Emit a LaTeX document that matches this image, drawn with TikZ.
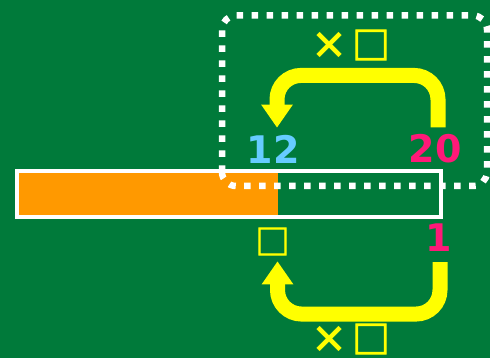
\documentclass[tikz,border=0pt]{standalone}
\usepackage{fontspec}
\usepackage{tikz}
\usetikzlibrary{arrows.meta,positioning}
\newfontfamily\numfont{DejaVu Sans}
\newfontfamily\jpfont{Noto Sans CJK JP}
\newfontfamily\sqfont{Noto Sans CJK JP}[FakeBold=2.5]
\definecolor{board}{RGB}{0,122,58}
\definecolor{barfill}{RGB}{255,153,0}
\definecolor{chalkyellow}{RGB}{255,255,0}
\definecolor{chalkblue}{RGB}{102,204,255}
\definecolor{chalkpink}{RGB}{255,25,120}
\begin{document}
\begin{tikzpicture}[
  x=1pt, y=1pt,
  every node/.style={inner sep=0pt, align=center},
  num/.style={font=\numfont\bfseries\fontsize{38}{40}\selectfont},
  sym/.style={font=\jpfont\bfseries\fontsize{38}{40}\selectfont, text=chalkyellow},
  turn/.style={draw=chalkyellow, line width=15pt, rounded corners=24pt, -{Triangle[width=30pt, length=23pt]}},
  dotframe/.style={draw=white, line width=6.5pt, dash pattern=on 6.5pt off 8.5pt, rounded corners=14pt}
]
  \fill[board] (0,0) rectangle (490,358);
  \useasboundingbox (0,0) rectangle (490,358);

  % Bar
  \fill[barfill] (19,143) rectangle (278,185);
  \node[draw=white, line width=4pt, minimum width=424pt, minimum height=45.5pt] (bar) at (229,163.8) {};

  % Upper loop
  \node[num, text=chalkblue] (twelve) at (273,209) {12};
  \node[num, text=chalkpink] (twenty) at (435,209) {20};
  \node[sym] (upmul) at (350,313) {×\hspace{4pt}{\sqfont □}};
  \draw[turn] ([xshift=3pt, yshift=7pt]twenty.north) -- ++(0,52) -| ([xshift=4pt, yshift=7pt]twelve.north);

  % Lower loop
  \node[num, text=chalkpink] (one) at (439,120) {1};
  \node[sym, font=\sqfont\fontsize{34}{36}\selectfont] (blank) at (272.5,116.5) {□};
  \node[sym] (lowmul) at (350,19) {×\hspace{4pt}{\sqfont □}};
  \draw[turn] ([xshift=1pt, yshift=-10pt]one.south) -- ++(0,-52) -| ([xshift=5pt, yshift=-6pt]blank.south);

  % Frame
  \draw[dotframe] (222,172) rectangle (487,342.5);
\end{tikzpicture}
\end{document}
